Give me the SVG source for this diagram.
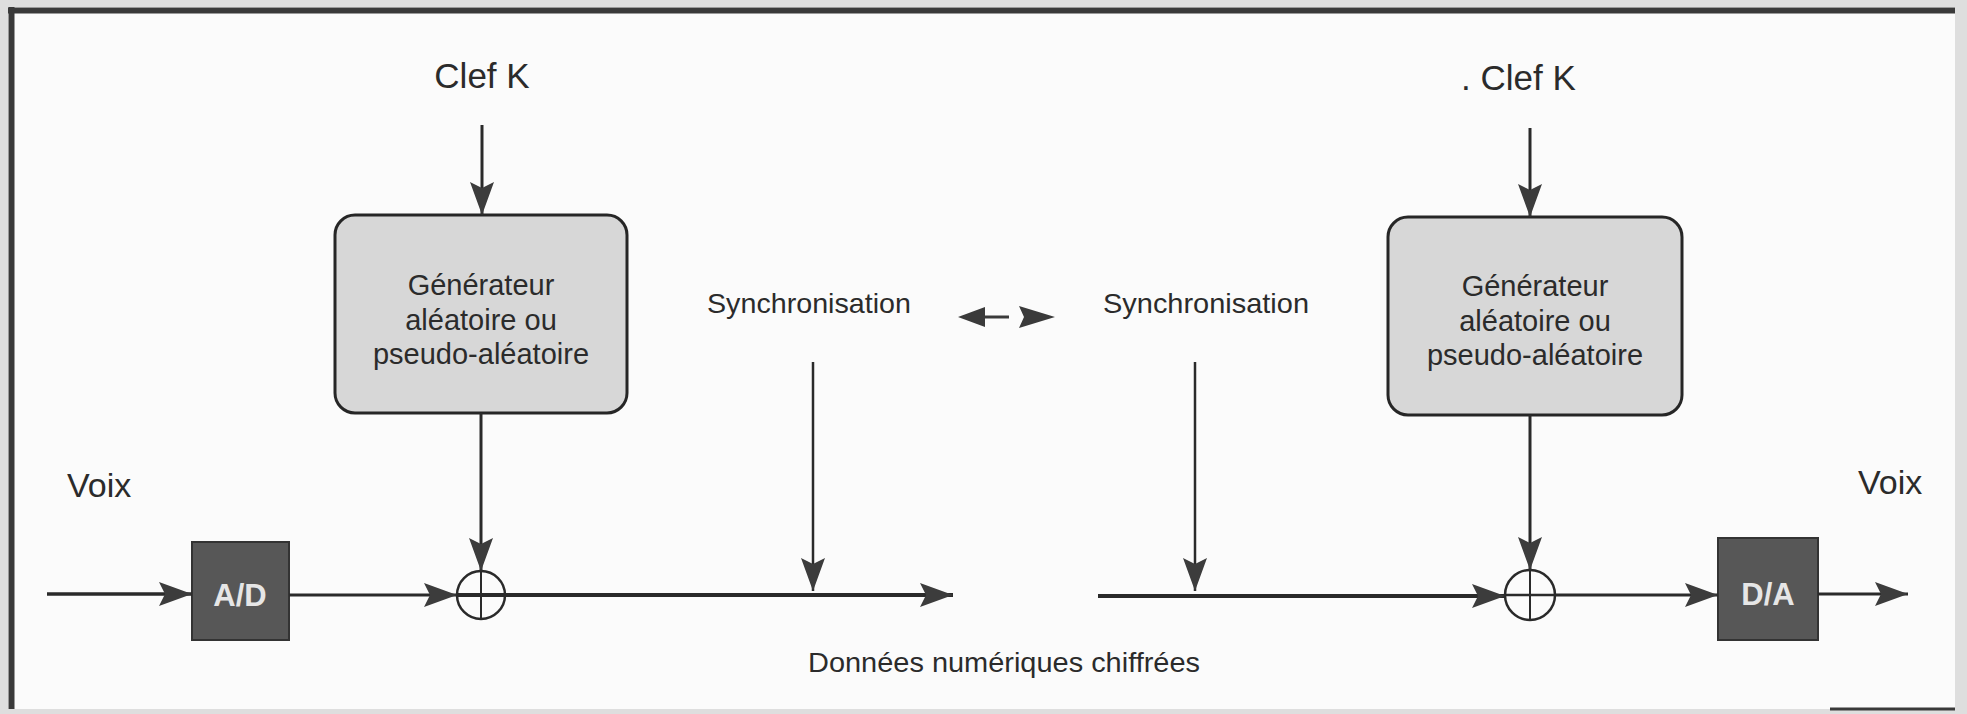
<svg xmlns="http://www.w3.org/2000/svg" width="1967" height="714" viewBox="0 0 1967 714">
<defs>
<marker id="ah" markerUnits="userSpaceOnUse" markerWidth="34" markerHeight="24" refX="33" refY="12" orient="auto">
<path d="M0,0 L33,12 L0,24 L6,12 z" fill="#3c3c3c"/>
</marker>
<style>
.t{font-family:"Liberation Sans",Arial,sans-serif;fill:#2b2b2b}
.gen{fill:#d7d7d7;stroke:#262626;stroke-width:3}
.conv{fill:#575757;stroke:#333;stroke-width:2}
.ct{font-family:"Liberation Sans",Arial,sans-serif;font-weight:bold;fill:#e6e6e6;font-size:31px}
.ln{stroke:#2a2a2a;fill:none}
.xor{fill:none;stroke:#2a2a2a;stroke-width:2.5}
</style>
</defs>
<rect x="0" y="0" width="1967" height="714" fill="#dedede"/>
<rect x="8" y="7" width="1947" height="702" fill="#fbfbfb"/>
<line x1="8" y1="10.5" x2="1955" y2="10.5" stroke="#3a3a3a" stroke-width="6"/>
<line x1="11.5" y1="7" x2="11.5" y2="709" stroke="#3a3a3a" stroke-width="6"/>
<line x1="1830" y1="709" x2="1955" y2="709" stroke="#3a3a3a" stroke-width="3"/>

<g id="clef-left"><text class="t" x="482" y="88" font-size="35" text-anchor="middle">Clef K</text></g>
<g id="clef-right"><text class="t" x="1461" y="90" font-size="35">. Clef K</text></g>

<g id="gen-left">
<rect class="gen" x="335" y="215" width="292" height="198" rx="20"/>
<text class="t" font-size="29" text-anchor="middle"><tspan x="481" y="295">Générateur</tspan><tspan x="481" y="330">aléatoire ou</tspan><tspan x="481" y="364">pseudo-aléatoire</tspan></text>
</g>
<g id="gen-right">
<rect class="gen" x="1388" y="217" width="294" height="198" rx="20"/>
<text class="t" font-size="29" text-anchor="middle"><tspan x="1535" y="296">Générateur</tspan><tspan x="1535" y="331">aléatoire ou</tspan><tspan x="1535" y="365">pseudo-aléatoire</tspan></text>
</g>

<g id="sync-left"><text class="t" x="809" y="313" font-size="28" text-anchor="middle" textLength="204" lengthAdjust="spacingAndGlyphs">Synchronisation</text></g>
<g id="sync-right"><text class="t" x="1206" y="313" font-size="28" text-anchor="middle" textLength="206" lengthAdjust="spacingAndGlyphs">Synchronisation</text></g>

<g id="voix-left"><text class="t" x="67" y="497" font-size="34">Voix</text></g>
<g id="voix-right"><text class="t" x="1858" y="494" font-size="34">Voix</text></g>

<g id="ad">
<rect class="conv" x="192" y="542" width="97" height="98"/>
<text class="ct" x="240" y="606" text-anchor="middle">A/D</text>
</g>
<g id="da">
<rect class="conv" x="1718" y="538" width="100" height="102"/>
<text class="ct" x="1768" y="605" text-anchor="middle">D/A</text>
</g>

<g id="xor-left"><circle class="xor" cx="481" cy="595" r="24"/></g>
<g id="xor-right"><circle class="xor" cx="1530" cy="595" r="25"/></g>

<g id="data-label"><text class="t" x="1004" y="672" font-size="28" text-anchor="middle" textLength="392" lengthAdjust="spacingAndGlyphs">Données numériques chiffrées</text></g>

<g id="connectors">
<line class="ln" x1="482" y1="125" x2="482" y2="215" stroke-width="3" marker-end="url(#ah)"/>
<line class="ln" x1="1530" y1="128" x2="1530" y2="217" stroke-width="3" marker-end="url(#ah)"/>
<line class="ln" x1="481" y1="413" x2="481" y2="571" stroke-width="3" marker-end="url(#ah)"/>
<line class="ln" x1="481" y1="571" x2="481" y2="619" stroke-width="2"/>
<line class="ln" x1="1530" y1="415" x2="1530" y2="570" stroke-width="3" marker-end="url(#ah)"/>
<line class="ln" x1="1530" y1="570" x2="1530" y2="620" stroke-width="2"/>
<line class="ln" x1="813" y1="362" x2="813" y2="591" stroke-width="2.5" marker-end="url(#ah)"/>
<line class="ln" x1="1195" y1="362" x2="1195" y2="591" stroke-width="2.5" marker-end="url(#ah)"/>
<line class="ln" x1="47" y1="594" x2="192" y2="594" stroke-width="3.5" marker-end="url(#ah)"/>
<line class="ln" x1="289" y1="595" x2="457" y2="595" stroke-width="3" marker-end="url(#ah)"/>
<line class="ln" x1="457" y1="595" x2="953" y2="595" stroke-width="4" marker-end="url(#ah)"/>
<line class="ln" x1="1098" y1="596" x2="1505" y2="596" stroke-width="4" marker-end="url(#ah)"/>
<line class="ln" x1="1505" y1="595" x2="1555" y2="595" stroke-width="2.5"/>
<line class="ln" x1="1555" y1="595" x2="1718" y2="595" stroke-width="3" marker-end="url(#ah)"/>
<line class="ln" x1="1818" y1="594" x2="1908" y2="594" stroke-width="3" marker-end="url(#ah)"/>
<path d="M958,317 L985,307 L985,327 z" fill="#3a3a3a"/>
<line x1="984" y1="317" x2="1009" y2="317" stroke="#3a3a3a" stroke-width="3"/>
<path d="M1055,317 L1019,306 L1024,317 L1019,328 z" fill="#3a3a3a"/>
</g>
</svg>
